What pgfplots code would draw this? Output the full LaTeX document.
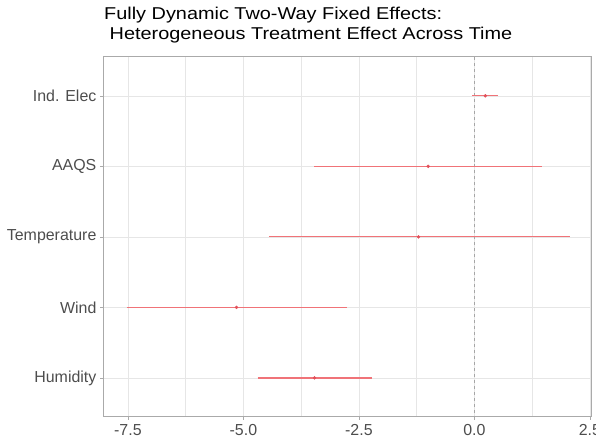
\documentclass[border=0pt]{standalone}
\usepackage{pgfplots}
\pgfplotsset{compat=1.18}
\usepackage{fontspec}
\setmainfont{Liberation Sans}
\newfontfamily\titlefont[FakeStretch=1.16]{Liberation Sans}
\definecolor{gridc}{RGB}{230,230,230}
\definecolor{bordc}{RGB}{170,170,170}
\definecolor{tickc}{RGB}{77,77,77}
\definecolor{estc}{RGB}{240,115,120}
\definecolor{ptc}{RGB}{226,80,90}
\pgfplotstableread{
y  est    lo     hi
1  -3.46  -4.69  -2.22
2  -5.15  -7.53  -2.75
3  -1.21  -4.45   2.07
4  -1.00  -3.47   1.46
5   0.236 -0.045  0.515
}\est
\begin{document}
\begin{tikzpicture}
\begin{axis}[
  scale only axis,
  width=487.9bp, height=360.4bp,
  xmin=-8.03, xmax=2.53,
  ymin=0.45, ymax=5.56,
  xtick={-7.5,-5,-2.5,0,2.5},
  xticklabels={-7.5,-5.0,-2.5,0.0,2.5},
  minor xtick={-6.25,-3.75,-1.25,1.25},
  ytick={1,2,3,4,5},
  yticklabels={Humidity,Wind,Temperature,AAQS,Ind. Elec},
  xmajorgrids, ymajorgrids, xminorgrids,
  major grid style={gridc, line width=0.55pt},
  minor grid style={gridc, line width=0.35pt},
  axis line style={bordc, line width=0.8pt},
  tick style={bordc, line width=0.55pt},
  major tick length=3bp,
  minor tick length=0pt,
  tick align=outside,
  xtick pos=bottom, ytick pos=left,
  tick label style={font=\fontsize{16}{19}\selectfont, text=tickc},
  xticklabel style={yshift=-1bp},
  yticklabel style={xshift=-0.5bp},
  clip=true,
]
\addplot[gray!70, dashed, line width=0.6pt, forget plot] coordinates {(0,0) (0,6)};
\addplot[draw=estc, line width=1.2pt, forget plot] coordinates {(-4.69,1) (-2.22,1)};
\addplot[draw=estc, line width=1.2pt, forget plot] coordinates {(-7.53,2) (-2.75,2)};
\addplot[draw=estc, line width=1.2pt, forget plot] coordinates {(-4.45,3) (2.07,3)};
\addplot[draw=estc, line width=1.2pt, forget plot] coordinates {(-3.47,4) (1.46,4)};
\addplot[draw=estc, line width=1.2pt, forget plot] coordinates {(-0.045,5) (0.515,5)};
\addplot[only marks, mark=*, mark size=1.5bp, color=ptc, mark options={draw=ptc, fill=ptc}]
  table[x=est, y=y] {\est};
\end{axis}
\node[anchor=base west, inner sep=0pt, font=\titlefont\fontsize{17.2}{20}\selectfont] at (0.6bp,397.6bp) {Fully Dynamic Two-Way Fixed Effects:};
\node[anchor=base west, inner sep=0pt, font=\titlefont\fontsize{17.2}{20}\selectfont] at (0.6bp,377bp) {\ Heterogeneous Treatment Effect Across Time};
\pgfresetboundingbox
\path (-103.4bp,-25.3bp) rectangle (492.6bp,416.7bp);
\end{tikzpicture}
\end{document}
